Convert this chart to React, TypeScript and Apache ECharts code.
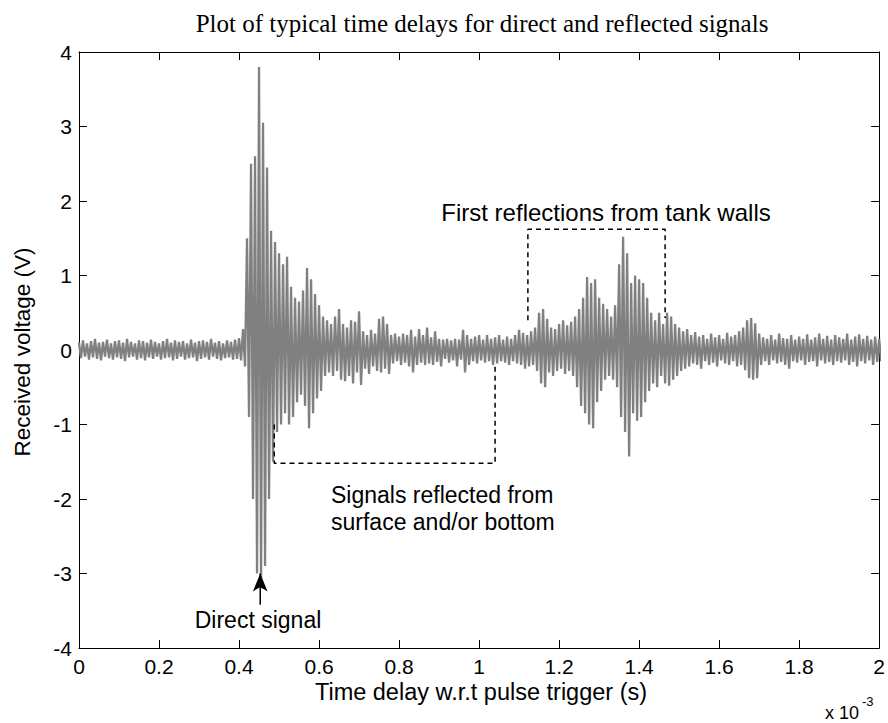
import React, { useEffect, useRef } from "react";
import * as echarts from "echarts";

// ---------- data ----------
const chartTitle = "Plot of typical time delays for direct and reflected signals";
const xAxisTitle = "Time delay w.r.t pulse trigger (s)";
const yAxisTitle = "Received voltage (V)";
const xTickLabels = ["0", "0.2", "0.4", "0.6", "0.8", "1", "1.2", "1.4", "1.6", "1.8", "2"];
const yTickLabels = ["-4", "-3", "-2", "-1", "0", "1", "2", "3", "4"];
const xExponentBase = "x 10";
const xExponent = "-3";

// time base of the sampled envelope (units of 1e-3 s)
const sampleStep = 0.01;

// positive peak of each sample (V)
const upperPeaks = [
  0.10, 0.13, 0.09, 0.12, 0.15, 0.10, 0.11, 0.14, 0.09, 0.12,
  0.13, 0.10, 0.15, 0.11, 0.09, 0.13, 0.12, 0.10, 0.14, 0.11,
  0.09, 0.12, 0.15, 0.10, 0.13, 0.11, 0.12, 0.09, 0.14, 0.10,
  0.12, 0.13, 0.11, 0.15, 0.10, 0.12, 0.09, 0.13, 0.11, 0.14,
  0.16, 0.28, 1.50, 2.50, 2.60, 3.80, 3.05, 2.45, 1.60, 1.45,
  1.30, 1.15, 1.25, 0.85, 0.70, 0.65, 0.80, 1.10, 0.95, 0.75,
  0.60, 0.45, 0.40, 0.35, 0.45, 0.55, 0.35, 0.30, 0.40, 0.38,
  0.52, 0.25, 0.20, 0.27, 0.22, 0.42, 0.45, 0.35, 0.20, 0.22,
  0.18, 0.22, 0.20, 0.27, 0.18, 0.28, 0.20, 0.30, 0.17, 0.25,
  0.15, 0.14, 0.15, 0.13, 0.15, 0.14, 0.27, 0.20, 0.15, 0.18,
  0.20, 0.14, 0.20, 0.15, 0.17, 0.20, 0.14, 0.18, 0.15, 0.20,
  0.27, 0.23, 0.20, 0.25, 0.30, 0.50, 0.55, 0.42, 0.30, 0.28,
  0.35, 0.40, 0.33, 0.38, 0.45, 0.55, 0.70, 0.98, 0.90, 0.95,
  0.70, 0.62, 0.55, 0.45, 0.60, 1.15, 1.52, 1.30, 0.90, 1.00,
  0.95, 0.90, 0.70, 0.50, 0.40, 0.50, 0.35, 0.50, 0.45, 0.35,
  0.30, 0.25, 0.28, 0.20, 0.24, 0.18, 0.20, 0.15, 0.22, 0.17,
  0.20, 0.15, 0.23, 0.18, 0.20, 0.25, 0.30, 0.40, 0.43, 0.36,
  0.22, 0.17, 0.15, 0.20, 0.14, 0.22, 0.16, 0.15, 0.20, 0.14,
  0.18, 0.15, 0.21, 0.14, 0.17, 0.22, 0.15, 0.19, 0.14, 0.20,
  0.17, 0.15, 0.22, 0.14, 0.18, 0.21, 0.15, 0.19, 0.14, 0.18,
  0.15,
];

// negative peak of each sample (V)
const lowerPeaks = [
  -0.11, -0.09, -0.13, -0.10, -0.12, -0.14, -0.09, -0.11, -0.13, -0.10,
  -0.12, -0.15, -0.10, -0.09, -0.13, -0.11, -0.14, -0.10, -0.12, -0.09,
  -0.13, -0.11, -0.10, -0.14, -0.12, -0.09, -0.13, -0.11, -0.10, -0.15,
  -0.12, -0.10, -0.13, -0.09, -0.12, -0.14, -0.11, -0.10, -0.13, -0.12,
  -0.14, -0.22, -0.90, -2.00, -3.00, -3.20, -2.90, -2.00, -1.50, -1.10,
  -1.00, -0.85, -1.00, -0.90, -0.70, -0.60, -0.75, -1.05, -0.85, -0.65,
  -0.55, -0.35, -0.30, -0.35, -0.28, -0.40, -0.42, -0.35, -0.45, -0.30,
  -0.47, -0.25, -0.32, -0.22, -0.28, -0.30, -0.25, -0.32, -0.18, -0.15,
  -0.20, -0.17, -0.22, -0.30, -0.20, -0.17, -0.20, -0.18, -0.20, -0.16,
  -0.22, -0.12, -0.17, -0.14, -0.22, -0.13, -0.30, -0.20, -0.15, -0.18,
  -0.14, -0.17, -0.15, -0.20, -0.18, -0.15, -0.17, -0.20, -0.15, -0.18,
  -0.20, -0.25, -0.22, -0.20, -0.28, -0.45, -0.50, -0.30, -0.35, -0.28,
  -0.25, -0.32, -0.28, -0.35, -0.50, -0.75, -0.85, -1.00, -1.05, -0.70,
  -0.55, -0.40, -0.35, -0.40, -0.50, -0.90, -1.10, -1.43, -0.85, -0.95,
  -0.90, -0.70, -0.55, -0.45, -0.50, -0.35, -0.45, -0.48, -0.40, -0.35,
  -0.28, -0.25, -0.22, -0.18, -0.20, -0.25, -0.15, -0.20, -0.17, -0.22,
  -0.14, -0.18, -0.20, -0.15, -0.22, -0.20, -0.27, -0.38, -0.40, -0.38,
  -0.20, -0.15, -0.20, -0.14, -0.18, -0.16, -0.20, -0.25, -0.15, -0.17,
  -0.14, -0.20, -0.16, -0.15, -0.22, -0.14, -0.18, -0.16, -0.20, -0.15,
  -0.17, -0.14, -0.20, -0.16, -0.22, -0.15, -0.18, -0.14, -0.20, -0.16,
  -0.15,
];

// annotation outlines (data units: 1e-3 s, V)
const surfaceBox = [[0.488, -1.0], [0.488, -1.52], [1.04, -1.52], [1.04, -0.2]];
const wallBox = [[1.122, 0.4], [1.122, 1.62], [1.465, 1.62], [1.465, 0.43]];
const arrowTail = [0.453, -3.42];
const arrowHead = [0.453, -3.0];

const annotationSurface1 = "Signals reflected from";
const annotationSurface2 = "surface and/or bottom";
const annotationWalls = "First reflections from tank walls";
const annotationDirect = "Direct signal";

// ---------- component ----------
export default function App() {
  const ref = useRef<HTMLDivElement>(null);

  useEffect(() => {
    if (!ref.current) return;
    const chart = echarts.init(ref.current, undefined, { renderer: "svg" });

    const signal: number[][] = [];
    upperPeaks.forEach((hi, i) => {
      const t = i * sampleStep;
      signal.push([t, hi]);
      signal.push([t + sampleStep / 2, lowerPeaks[i]]);
    });

    const sans = '"Liberation Sans", Arial, sans-serif';
    const serif = '"Liberation Serif", "Times New Roman", serif';

    const xMin = Number(xTickLabels[0]);
    const xMax = Number(xTickLabels[xTickLabels.length - 1]);
    const xInt = Number(xTickLabels[1]) - xMin;
    const yMin = Number(yTickLabels[0]);
    const yMax = Number(yTickLabels[yTickLabels.length - 1]);
    const yInt = Number(yTickLabels[1]) - yMin;

    const axisCommon = {
      type: "value" as const,
      axisLine: { show: true, onZero: false, lineStyle: { color: "#000", width: 1 } },
      axisTick: { show: true, inside: true, length: 8, lineStyle: { color: "#000" } },
      splitLine: { show: false },
    };

    const labelFmt = (v: number) => String(Math.round(v * 10) / 10);

    const txt = (
      text: string,
      x: number,
      y: number,
      font: string,
      align: string,
      extra: Record<string, unknown> = {}
    ) => ({
      type: "text",
      x,
      y,
      ...extra,
      style: {
        text,
        font,
        fill: "#000",
        align,
        verticalAlign: "middle",
        textAlign: align,
        textVerticalAlign: "middle",
      },
    });

    chart.setOption({
      animation: false,
      backgroundColor: "#fff",
      grid: { left: 79, right: 5, top: 52, bottom: 75, containLabel: false },
      xAxis: [
        {
          ...axisCommon,
          position: "bottom",
          min: xMin,
          max: xMax,
          interval: xInt,
          axisLabel: {
            show: true,
            color: "#000",
            fontFamily: sans,
            fontSize: 21,
            margin: 8,
            formatter: labelFmt,
          },
        },
        {
          ...axisCommon,
          position: "top",
          min: xMin,
          max: xMax,
          interval: xInt,
          axisLabel: { show: false },
        },
      ],
      yAxis: [
        {
          ...axisCommon,
          position: "left",
          min: yMin,
          max: yMax,
          interval: yInt,
          axisLabel: {
            show: true,
            color: "#000",
            fontFamily: sans,
            fontSize: 21,
            margin: 7,
            formatter: labelFmt,
          },
        },
        {
          ...axisCommon,
          position: "right",
          min: yMin,
          max: yMax,
          interval: yInt,
          axisLabel: { show: false },
        },
      ],
      series: [
        {
          type: "line",
          xAxisIndex: 0,
          yAxisIndex: 0,
          data: signal,
          showSymbol: false,
          symbol: "none",
          clip: true,
          lineStyle: { color: "#808080", width: 2.3, join: "bevel", cap: "butt" },
          z: 2,
        },
        {
          type: "line",
          xAxisIndex: 0,
          yAxisIndex: 0,
          data: surfaceBox,
          showSymbol: false,
          symbol: "none",
          lineStyle: { color: "#000", width: 1.5, type: [5, 4] },
          z: 3,
        },
        {
          type: "line",
          xAxisIndex: 0,
          yAxisIndex: 0,
          data: wallBox,
          showSymbol: false,
          symbol: "none",
          lineStyle: { color: "#000", width: 1.5, type: [5, 4] },
          z: 3,
        },
        {
          type: "line",
          xAxisIndex: 0,
          yAxisIndex: 0,
          data: [
            { value: arrowTail, symbol: "none" },
            { value: arrowHead, symbol: "arrow", symbolSize: [11, 18] },
          ],
          showSymbol: true,
          itemStyle: { color: "#000" },
          lineStyle: { color: "#000", width: 1.5 },
          z: 4,
        },
      ],
      graphic: [
        txt(chartTitle, 482, 23, `25px ${serif}`, "center"),
        txt(xAxisTitle, 481, 692, `23.5px ${sans}`, "center"),
        txt(yAxisTitle, 22, 352, `22.5px ${sans}`, "center", { rotation: Math.PI / 2 }),
        txt(xExponentBase, 825, 713, `18px ${sans}`, "left"),
        txt(xExponent, 862, 701, `13px ${sans}`, "left"),
        txt(annotationWalls, 606, 212, `24px ${sans}`, "center"),
        txt(annotationSurface1, 331, 495, `23px ${sans}`, "left"),
        txt(annotationSurface2, 331, 522, `23px ${sans}`, "left"),
        txt(annotationDirect, 258, 620, `23px ${sans}`, "center"),
      ],
    });

    return () => chart.dispose();
  }, []);

  return <div ref={ref} style={{ width: 888, height: 723, position: "absolute", left: 0, top: 0 }} />;
}
